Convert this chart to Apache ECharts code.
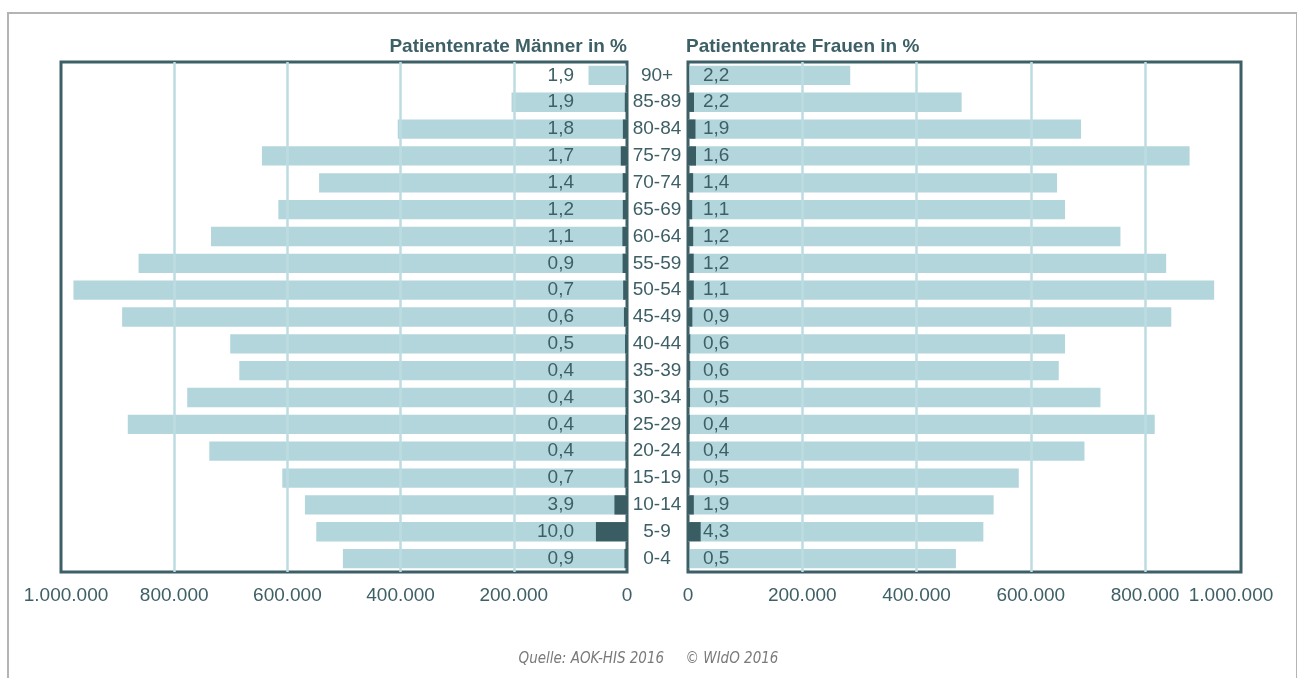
<!DOCTYPE html>
<html>
<head>
<meta charset="utf-8">
<script src="https://cdn.jsdelivr.net/npm/echarts@6/dist/echarts.min.js"></script>
<style>
  html, body { margin: 0; padding: 0; background: #fff; overflow: hidden; }
  #frame { position: absolute; left: 7px; top: 12px; width: 1287px; height: 700px; border: 2px solid #b4b4b4; }
  #chart { position: absolute; left: 0; top: 0; width: 1297px; height: 678px; }
</style>
</head>
<body>
<div id="frame"></div>
<div id="chart"></div>
<script>
// Altersgruppen, von unten (0-4) nach oben (90+)
const ages = ['0-4', '5-9', '10-14', '15-19', '20-24', '25-29', '30-34', '35-39', '40-44', '45-49',
  '50-54', '55-59', '60-64', '65-69', '70-74', '75-79', '80-84', '85-89', '90+']

// Versicherte Männer / Frauen
const menPop = [502000, 549000, 569000, 609000, 738000, 882000, 777000, 685000, 701000, 892000,
  978000, 863000, 735000, 616000, 544000, 645000, 405000, 204000, 68000]
const womenPop = [469000, 517000, 535000, 579000, 694000, 817000, 722000, 649000, 660000, 846000,
  921000, 837000, 757000, 660000, 646000, 878000, 688000, 479000, 284000]

// Patienten (dunkle Balken)
const menPatients = [4500, 54900, 22200, 4300, 3000, 3500, 3100, 2700, 3500, 5400,
  6800, 7800, 8100, 7400, 7600, 11000, 7300, 3900, 1300]
const womenPatients = [2300, 22200, 10200, 2900, 2800, 3300, 3600, 3900, 4000, 7600,
  10100, 10000, 9100, 7300, 9000, 14000, 13100, 10500, 2000]

// Patientenrate in %
const menRate = [0.9, 10.0, 3.9, 0.7, 0.4, 0.4, 0.4, 0.4, 0.5, 0.6,
  0.7, 0.9, 1.1, 1.2, 1.4, 1.7, 1.8, 1.9, 1.9]
const womenRate = [0.5, 4.3, 1.9, 0.5, 0.4, 0.4, 0.5, 0.6, 0.6, 0.9,
  1.1, 1.2, 1.2, 1.1, 1.4, 1.6, 1.9, 2.2, 2.2]

const light = '#b3d6dc'
const dark = '#3a5c63'
const ink = '#3d5f66'
const font = 'Liberation Sans, Arial, sans-serif'
const fs = 19

const fmtThousands = (v) => String(Math.round(v)).replace(/\B(?=(\d{3})+(?!\d))/g, '.')
const fmtRate = (v) => v.toFixed(1).replace('.', ',')

const chart = echarts.init(document.getElementById('chart'))

// rechte Skala endet am Rahmen etwas vor 1.000.000, wie im Original
const valueAxis = (gridIndex, max, inverse) => ({
  type: 'value',
  gridIndex,
  min: 0,
  max,
  interval: 200000,
  inverse,
  z: 3,
  axisLine: { show: false },
  axisTick: { show: false },
  splitLine: { showMinLine: false, showMaxLine: false, lineStyle: { color: '#bcdce1', width: 2.5 } },
  axisLabel: {
    margin: 14,
    fontSize: fs,
    fontFamily: font,
    color: ink,
    formatter: (v) => {
      if (v >= 960000) return inverse ? '{l|1.000.000}' : '{r|1.000.000}'
      return fmtThousands(v)
    },
    rich: {
      l: { fontSize: fs, fontFamily: font, color: ink, padding: [0, 0, 0, 10] },
      r: { fontSize: fs, fontFamily: font, color: ink, padding: [0, 20, 0, 0] }
    }
  }
})

const titleStyle = { fontSize: fs, fontWeight: 'bold', fontFamily: font, color: ink }

chart.setOption({
  animation: false,
  title: [
    { text: 'Patientenrate Männer in %', right: 670, top: 37, padding: 0, textStyle: titleStyle },
    { text: 'Patientenrate Frauen in %', left: 686, top: 37, padding: 0, textStyle: titleStyle },
    {
      text: 'Quelle: AOK-HIS 2016     © WIdO 2016',
      left: 'center',
      top: 652,
      padding: 0,
      textStyle: {
        fontSize: 15,
        fontWeight: 'normal',
        fontStyle: 'italic',
        fontFamily: 'Liberation Sans Narrow, DejaVu Sans Condensed, sans-serif',
        color: '#7a7a7a'
      }
    }
  ],
  grid: [
    { left: 61, top: 62, width: 566, height: 510, show: true, borderColor: ink, borderWidth: 3 },
    { left: 688, top: 62, width: 553, height: 510, show: true, borderColor: ink, borderWidth: 3 }
  ],
  xAxis: [
    valueAxis(0, 1000000, true),
    valueAxis(1, 968000, false)
  ],
  yAxis: [
    {
      type: 'category',
      gridIndex: 0,
      data: ages,
      position: 'right',
      axisLine: { show: false },
      axisTick: { show: false },
      axisLabel: { margin: 30, align: 'center', fontSize: fs, fontFamily: font, color: ink }
    },
    {
      type: 'category',
      gridIndex: 1,
      data: ages,
      axisLine: { show: false },
      axisTick: { show: false },
      axisLabel: { show: false }
    }
  ],
  series: [
    {
      name: 'Männer',
      type: 'bar',
      xAxisIndex: 0,
      yAxisIndex: 0,
      data: menPop,
      barCategoryGap: '28%',
      itemStyle: { color: light },
      label: {
        show: true,
        position: 'insideRight',
        distance: 53,
        fontSize: fs,
        fontFamily: font,
        color: ink,
        formatter: (p) => fmtRate(menRate[p.dataIndex])
      }
    },
    {
      name: 'Patienten Männer',
      type: 'bar',
      xAxisIndex: 0,
      yAxisIndex: 0,
      data: menPatients,
      barGap: '-100%',
      itemStyle: { color: dark }
    },
    {
      name: 'Frauen',
      type: 'bar',
      xAxisIndex: 1,
      yAxisIndex: 1,
      data: womenPop,
      barCategoryGap: '28%',
      itemStyle: { color: light },
      label: {
        show: true,
        position: 'insideLeft',
        distance: 15,
        fontSize: fs,
        fontFamily: font,
        color: ink,
        formatter: (p) => fmtRate(womenRate[p.dataIndex])
      }
    },
    {
      name: 'Patienten Frauen',
      type: 'bar',
      xAxisIndex: 1,
      yAxisIndex: 1,
      data: womenPatients,
      barGap: '-100%',
      itemStyle: { color: dark }
    }
  ]
})
</script>
</body>
</html>
